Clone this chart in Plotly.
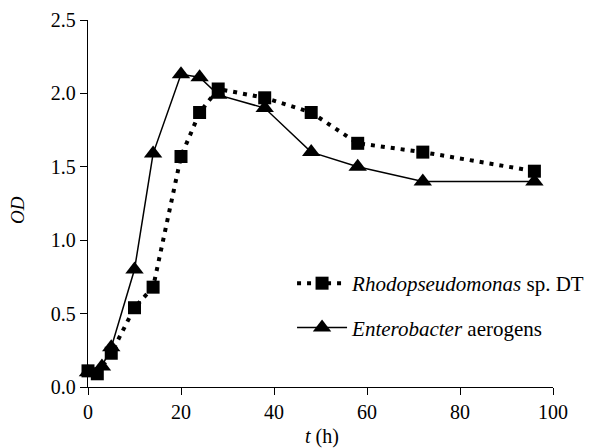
import plotly.graph_objects as go

t_rhodo = [0, 2, 5, 10, 14, 20, 24, 28, 38, 48, 58, 72, 96]
od_rhodo = [0.11, 0.09, 0.23, 0.54, 0.68, 1.57, 1.87, 2.03, 1.97, 1.87, 1.66, 1.60, 1.47]

t_entero = [0, 3, 5, 10, 14, 20, 24, 28, 38, 48, 58, 72, 96]
od_entero = [0.10, 0.14, 0.27, 0.80, 1.59, 2.13, 2.11, 1.99, 1.90, 1.60, 1.50, 1.40, 1.40]

x_ticks = [0, 20, 40, 60, 80, 100]
y_ticks = [0.0, 0.5, 1.0, 1.5, 2.0, 2.5]
y_ticklabels = ["0.0", "0.5", "1.0", "1.5", "2.0", "2.5"]

FONT = "Liberation Serif, Times New Roman, serif"

fig = go.Figure()
fig.add_trace(go.Scatter(
    x=t_rhodo, y=od_rhodo, mode="lines+markers",
    name="<i>Rhodopseudomonas</i> sp. DT", legendgroup="a",
    line=dict(color="black", width=4, dash="4px,6px"),
    marker=dict(symbol="square", size=13, color="black"),
    cliponaxis=False,
))
fig.add_trace(go.Scatter(
    x=t_entero, y=od_entero, mode="lines+markers",
    name="<i>Enterobacter</i> aerogens", legendgroup="b",
    line=dict(color="black", width=1.5),
    marker=dict(symbol="triangle-up", size=16, color="black"),
    cliponaxis=False,
))

fig.update_layout(
    width=590, height=448,
    margin=dict(l=88, r=37, t=20, b=61, autoexpand=False),
    paper_bgcolor="white", plot_bgcolor="white",
    font=dict(family=FONT, size=20, color="black"),
    showlegend=True,
    legend=dict(
        xref="container", yref="container",
        x=0.495, y=0.318, xanchor="left", yanchor="middle",
        bgcolor="rgba(0,0,0,0)", font=dict(family=FONT, size=21, color="black"),
        itemwidth=50, tracegroupgap=14, traceorder="grouped",
    ),
    xaxis=dict(
        range=[0, 100], tickvals=x_ticks, ticks="outside", ticklen=7, tickwidth=1.3,
        tickcolor="black", showline=True, linecolor="black", linewidth=1.3,
        showgrid=False, zeroline=False, automargin=False,
    ),
    yaxis=dict(
        range=[0, 2.5], tickvals=y_ticks, ticktext=y_ticklabels, ticks="outside",
        ticklen=7, tickwidth=1.3, tickcolor="black", showline=True, linecolor="black",
        linewidth=1.3, showgrid=False, zeroline=False, automargin=False,
    ),
    annotations=[
        dict(text="<i>t</i> (h)", xref="paper", yref="paper", x=0.504, y=-0.136,
             xanchor="center", yanchor="middle", showarrow=False,
             font=dict(family=FONT, size=20)),
        dict(text="<i>OD</i>", xref="paper", yref="paper", x=-0.153, y=0.482,
             xanchor="center", yanchor="middle", showarrow=False, textangle=-90,
             font=dict(family=FONT, size=19)),
    ],
)

fig.write_html("out.html")
